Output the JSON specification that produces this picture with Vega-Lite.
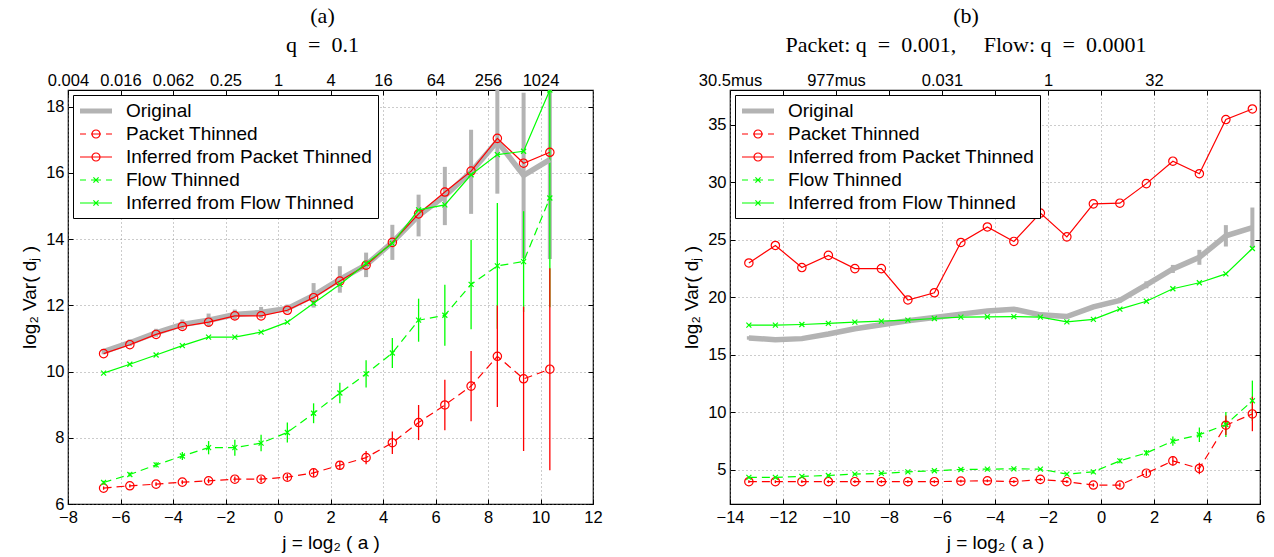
{
"$schema": "https://vega.github.io/schema/vega-lite/v6.json",
"background": "white",
"padding": {"left": 20, "top": 4, "right": 10, "bottom": 2},
"spacing": 79,
"resolve": {"scale": {"x": "independent", "y": "independent", "color": "independent", "shape": "independent"}, "legend": {"color": "independent", "shape": "independent"}},
"config": {
  "view": {"stroke": "black", "strokeWidth": 1.2},
  "axis": {"labelFont": "Liberation Sans", "labelFontSize": 16.5, "labelColor": "black", "titleFont": "Liberation Sans", "titleFontSize": 19, "titleFontWeight": "normal", "titleColor": "black", "tickColor": "black", "tickWidth": 1, "gridColor": "#7f7f7f", "gridDash": [1, 3], "gridWidth": 0.8, "gridOpacity": 1, "labelPadding": 4, "labelFlush": false, "labelOverlap": false},
  "title": {"font": "Liberation Serif", "fontSize": 22, "fontWeight": "normal", "color": "black", "subtitleFont": "Liberation Serif", "subtitleFontSize": 22, "subtitleColor": "black", "subtitlePadding": 7, "offset": 15, "anchor": "middle"},
  "legend": {"title": null, "orient": "top-left", "offset": 5, "padding": 5, "strokeColor": "black", "fillColor": "white", "symbolSize": 400, "symbolStrokeWidth": 1.2, "labelFont": "Liberation Sans", "labelFontSize": 19, "labelColor": "black", "labelOffset": 19, "rowPadding": 2, "symbolOffset": 7, "labelLimit": 0}
},
"datasets": {
"a": [
{"j":-6.644,"orig":10.6,"olo":10.52,"ohi":10.68,"pt":6.48,"ptlo":6.43,"pthi":6.53,"ipt":10.54,"ft":6.65,"ftlo":6.6,"fthi":6.7,"ift":9.95},
{"j":-5.644,"orig":10.87,"olo":10.77,"ohi":10.97,"pt":6.55,"ptlo":6.5,"pthi":6.6,"ipt":10.81,"ft":6.89,"ftlo":6.83,"fthi":6.95,"ift":10.22},
{"j":-4.644,"orig":11.17,"olo":11.05,"ohi":11.29,"pt":6.6,"ptlo":6.54,"pthi":6.66,"ipt":11.12,"ft":7.18,"ftlo":7.1,"fthi":7.26,"ift":10.5},
{"j":-3.644,"orig":11.42,"olo":11.27,"ohi":11.57,"pt":6.66,"ptlo":6.6,"pthi":6.72,"ipt":11.36,"ft":7.45,"ftlo":7.33,"fthi":7.57,"ift":10.78},
{"j":-2.644,"orig":11.55,"olo":11.35,"ohi":11.75,"pt":6.7,"ptlo":6.63,"pthi":6.77,"ipt":11.49,"ft":7.7,"ftlo":7.5,"fthi":7.9,"ift":11.04},
{"j":-1.644,"orig":11.72,"olo":11.57,"ohi":11.87,"pt":6.75,"ptlo":6.67,"pthi":6.83,"ipt":11.68,"ft":7.7,"ftlo":7.46,"fthi":7.94,"ift":11.04},
{"j":-0.644,"orig":11.78,"olo":11.61,"ohi":11.95,"pt":6.75,"ptlo":6.66,"pthi":6.84,"ipt":11.68,"ft":7.84,"ftlo":7.59,"fthi":8.09,"ift":11.19},
{"j":0.356,"orig":11.9,"olo":11.78,"ohi":12.02,"pt":6.81,"ptlo":6.71,"pthi":6.91,"ipt":11.85,"ft":8.16,"ftlo":7.86,"fthi":8.46,"ift":11.49},
{"j":1.356,"orig":12.3,"olo":11.93,"ohi":12.67,"pt":6.94,"ptlo":6.82,"pthi":7.06,"ipt":12.23,"ft":8.74,"ftlo":8.44,"fthi":9.04,"ift":12.06},
{"j":2.356,"orig":12.78,"olo":12.38,"ohi":13.18,"pt":7.17,"ptlo":7.04,"pthi":7.3,"ipt":12.73,"ft":9.35,"ftlo":9.04,"fthi":9.66,"ift":12.63},
{"j":3.356,"orig":13.22,"olo":12.85,"ohi":13.59,"pt":7.4,"ptlo":7.2,"pthi":7.6,"ipt":13.21,"ft":9.93,"ftlo":9.52,"fthi":10.34,"ift":13.26},
{"j":4.356,"orig":13.9,"olo":13.37,"ohi":14.43,"pt":7.85,"ptlo":7.51,"pthi":8.19,"ipt":13.9,"ft":10.56,"ftlo":10.11,"fthi":11.01,"ift":13.87},
{"j":5.356,"orig":14.71,"olo":14.08,"ohi":15.34,"pt":8.46,"ptlo":7.93,"pthi":8.99,"ipt":14.76,"ft":11.55,"ftlo":10.9,"fthi":12.2,"ift":14.88},
{"j":6.356,"orig":15.3,"olo":14.42,"ohi":16.18,"pt":8.99,"ptlo":8.23,"pthi":9.75,"ipt":15.42,"ft":11.7,"ftlo":10.78,"fthi":12.62,"ift":15.03},
{"j":7.356,"orig":16.03,"olo":14.76,"ohi":17.3,"pt":9.56,"ptlo":8.5,"pthi":10.62,"ipt":16.05,"ft":12.63,"ftlo":11.28,"fthi":13.98,"ift":15.94},
{"j":8.356,"orig":16.95,"olo":15.37,"ohi":18.53,"pt":10.46,"ptlo":8.93,"pthi":11.99,"ipt":17.04,"ft":13.19,"ftlo":11.29,"fthi":15.09,"ift":16.55},
{"j":9.356,"orig":15.92,"olo":13.42,"ohi":18.42,"pt":9.78,"ptlo":7.6,"pthi":11.96,"ipt":16.29,"ft":13.32,"ftlo":11.8,"fthi":14.84,"ift":16.65},
{"j":10.356,"orig":16.4,"olo":13.4,"ohi":19.4,"pt":10.07,"ptlo":7.02,"pthi":13.12,"ipt":16.62,"ft":15.24,"ftlo":11.94,"fthi":18.54,"ift":18.5}
],
"b": [
{"j":-13.288,"orig":16.44,"olo":16.29,"ohi":16.59,"pt":3.94,"ptlo":3.82,"pthi":4.06,"ipt":22.96,"ft":4.31,"ftlo":4.21,"fthi":4.41,"ift":17.56},
{"j":-12.288,"orig":16.29,"olo":16.14,"ohi":16.44,"pt":3.94,"ptlo":3.82,"pthi":4.06,"ipt":24.48,"ft":4.31,"ftlo":4.21,"fthi":4.41,"ift":17.56},
{"j":-11.288,"orig":16.38,"olo":16.23,"ohi":16.53,"pt":3.94,"ptlo":3.82,"pthi":4.06,"ipt":22.56,"ft":4.4,"ftlo":4.3,"fthi":4.5,"ift":17.61},
{"j":-10.288,"orig":16.78,"olo":16.63,"ohi":16.93,"pt":3.94,"ptlo":3.82,"pthi":4.06,"ipt":23.62,"ft":4.48,"ftlo":4.38,"fthi":4.58,"ift":17.7},
{"j":-9.288,"orig":17.24,"olo":17.09,"ohi":17.39,"pt":3.94,"ptlo":3.82,"pthi":4.06,"ipt":22.47,"ft":4.6,"ftlo":4.5,"fthi":4.7,"ift":17.82},
{"j":-8.288,"orig":17.59,"olo":17.44,"ohi":17.74,"pt":3.94,"ptlo":3.82,"pthi":4.06,"ipt":22.47,"ft":4.66,"ftlo":4.56,"fthi":4.76,"ift":17.9},
{"j":-7.288,"orig":17.93,"olo":17.78,"ohi":18.08,"pt":3.94,"ptlo":3.82,"pthi":4.06,"ipt":19.74,"ft":4.8,"ftlo":4.7,"fthi":4.9,"ift":17.99},
{"j":-6.288,"orig":18.22,"olo":18.07,"ohi":18.37,"pt":3.94,"ptlo":3.82,"pthi":4.06,"ipt":20.37,"ft":4.89,"ftlo":4.79,"fthi":4.99,"ift":18.13},
{"j":-5.288,"orig":18.51,"olo":18.36,"ohi":18.66,"pt":3.99,"ptlo":3.87,"pthi":4.11,"ipt":24.74,"ft":5.0,"ftlo":4.9,"fthi":5.1,"ift":18.25},
{"j":-4.288,"orig":18.79,"olo":18.64,"ohi":18.94,"pt":4.02,"ptlo":3.9,"pthi":4.14,"ipt":26.09,"ft":5.03,"ftlo":4.93,"fthi":5.13,"ift":18.28},
{"j":-3.288,"orig":18.94,"olo":18.79,"ohi":19.09,"pt":3.94,"ptlo":3.82,"pthi":4.06,"ipt":24.83,"ft":5.06,"ftlo":4.96,"fthi":5.16,"ift":18.3},
{"j":-2.288,"orig":18.45,"olo":18.3,"ohi":18.6,"pt":4.14,"ptlo":4.02,"pthi":4.26,"ipt":27.3,"ft":5.03,"ftlo":4.93,"fthi":5.13,"ift":18.25},
{"j":-1.288,"orig":18.3,"olo":18.15,"ohi":18.45,"pt":3.94,"ptlo":3.82,"pthi":4.06,"ipt":25.23,"ft":4.6,"ftlo":4.48,"fthi":4.72,"ift":17.84},
{"j":-0.288,"orig":19.14,"olo":18.99,"ohi":19.29,"pt":3.65,"ptlo":3.5,"pthi":3.8,"ipt":28.1,"ft":4.8,"ftlo":4.65,"fthi":4.95,"ift":18.05},
{"j":0.712,"orig":19.71,"olo":19.51,"ohi":19.91,"pt":3.65,"ptlo":3.45,"pthi":3.85,"ipt":28.16,"ft":5.75,"ftlo":5.55,"fthi":5.95,"ift":18.94},
{"j":1.712,"orig":21.06,"olo":20.76,"ohi":21.36,"pt":4.68,"ptlo":4.43,"pthi":4.93,"ipt":29.86,"ft":6.44,"ftlo":6.19,"fthi":6.69,"ift":19.63},
{"j":2.712,"orig":22.44,"olo":22.09,"ohi":22.79,"pt":5.75,"ptlo":5.35,"pthi":6.15,"ipt":31.81,"ft":7.47,"ftlo":7.07,"fthi":7.87,"ift":20.72},
{"j":3.712,"orig":23.45,"olo":22.8,"ohi":24.1,"pt":5.09,"ptlo":4.59,"pthi":5.59,"ipt":30.72,"ft":8.02,"ftlo":7.39,"fthi":8.65,"ift":21.24},
{"j":4.712,"orig":25.32,"olo":24.39,"ohi":26.25,"pt":8.85,"ptlo":8.0,"pthi":9.7,"ipt":35.43,"ft":8.91,"ftlo":7.83,"fthi":9.99,"ift":22.01},
{"j":5.712,"orig":26.03,"olo":24.28,"ohi":27.78,"pt":9.83,"ptlo":8.33,"pthi":11.33,"ipt":36.35,"ft":10.98,"ftlo":9.23,"fthi":12.73,"ift":24.22}
]
},
"hconcat": [
{
 "width": 525, "height": 414,
 "title": {"text": "(a)", "subtitle": "q\u2002=\u20020.1", "dx": -8},
 "data": {"name": "a"},
 "resolve": {"axis": {"x": "independent", "y": "independent"}},
 "layer": [
  {"mark": {"type": "rule", "color": "#b3b3b3", "strokeWidth": 4, "clip": true},
   "encoding": {"x": {"field": "j", "type": "quantitative", "scale": {"domain": [-8, 12], "nice": false, "zero": false}, "axis": null},
    "y": {"field": "olo", "type": "quantitative", "scale": {"domain": [6, 18.5], "nice": false, "zero": false}, "axis": null}, "y2": {"field": "ohi"}}},
  {"mark": {"type": "rule", "color": "#00ff00", "strokeWidth": 1.3, "clip": true},
   "encoding": {"x": {"field": "j", "type": "quantitative", "axis": null},
    "y": {"field": "ftlo", "type": "quantitative", "axis": null}, "y2": {"field": "fthi"}}},
  {"mark": {"type": "rule", "color": "#ff0000", "strokeWidth": 1.3, "clip": true},
   "encoding": {"x": {"field": "j", "type": "quantitative", "axis": null},
    "y": {"field": "ptlo", "type": "quantitative", "axis": null}, "y2": {"field": "pthi"}}},
  {"mark": {"type": "line", "color": "#b3b3b3", "strokeWidth": 5.5, "clip": true},
   "encoding": {"x": {"field": "j", "type": "quantitative", "scale": {"domain": [-8, 12], "nice": false, "zero": false},
      "axis": {"orient": "bottom", "values": [-8, -6, -4, -2, 0, 2, 4, 6, 8, 10, 12], "offset": -5, "tickSize": 5, "domain": false, "grid": true, "labelPadding": 5, "title": "j = log\u2082 ( a )", "titlePadding": 8}},
    "y": {"field": "orig", "type": "quantitative", "scale": {"domain": [6, 18.5], "nice": false, "zero": false},
      "axis": {"orient": "left", "values": [6, 8, 10, 12, 14, 16, 18], "offset": -5, "tickSize": 5, "domain": false, "grid": true, "title": "log\u2082 Var( d\u2c7c )", "titlePadding": 6}}}},
  {"mark": {"type": "line", "color": "#ff0000", "strokeWidth": 1.2, "strokeDash": [8, 5], "clip": true},
   "encoding": {"x": {"field": "j", "type": "quantitative", "axis": null}, "y": {"field": "pt", "type": "quantitative", "axis": null}}},
  {"mark": {"type": "point", "shape": "circle", "filled": false, "color": "#ff0000", "size": 70, "strokeWidth": 1.2, "opacity": 1, "clip": true},
   "encoding": {"x": {"field": "j", "type": "quantitative", "axis": null}, "y": {"field": "pt", "type": "quantitative", "axis": null}}},
  {"mark": {"type": "line", "color": "#ff0000", "strokeWidth": 1.2, "clip": true},
   "encoding": {"x": {"field": "j", "type": "quantitative", "scale": {"domain": [-8, 12], "nice": false, "zero": false},
      "axis": {"orient": "top", "values": [-8, -6, -4, -2, 0, 2, 4, 6, 8, 10], "offset": -5, "tickSize": 5, "domain": false, "grid": false, "title": null, "labelPadding": 2,
        "labelExpr": "datum.value == -8 ? '0.004' : datum.value == -6 ? '0.016' : datum.value == -4 ? '0.062' : datum.value == -2 ? '0.25' : datum.value == 0 ? '1' : datum.value == 2 ? '4' : datum.value == 4 ? '16' : datum.value == 6 ? '64' : datum.value == 8 ? '256' : '1024'"}},
    "y": {"field": "ipt", "type": "quantitative", "scale": {"domain": [6, 18.5], "nice": false, "zero": false},
      "axis": {"orient": "right", "values": [6, 8, 10, 12, 14, 16, 18], "offset": -5, "tickSize": 5, "domain": false, "grid": false, "labels": false, "title": null}}}},
  {"mark": {"type": "point", "shape": "circle", "filled": false, "color": "#ff0000", "size": 70, "strokeWidth": 1.2, "opacity": 1, "clip": true},
   "encoding": {"x": {"field": "j", "type": "quantitative", "axis": null}, "y": {"field": "ipt", "type": "quantitative", "axis": null}}},
  {"mark": {"type": "line", "color": "#00ff00", "strokeWidth": 1.2, "strokeDash": [8, 5], "clip": true},
   "encoding": {"x": {"field": "j", "type": "quantitative", "axis": null}, "y": {"field": "ft", "type": "quantitative", "axis": null}}},
  {"mark": {"type": "point", "shape": "M-1,-1L1,1M-1,1L1,-1", "filled": false, "color": "#00ff00", "size": 25, "strokeWidth": 1.2, "opacity": 1, "clip": true},
   "encoding": {"x": {"field": "j", "type": "quantitative", "axis": null}, "y": {"field": "ft", "type": "quantitative", "axis": null}}},
  {"mark": {"type": "line", "color": "#00ff00", "strokeWidth": 1.2, "clip": true},
   "encoding": {"x": {"field": "j", "type": "quantitative", "axis": null}, "y": {"field": "ift", "type": "quantitative", "axis": null}}},
  {"mark": {"type": "point", "shape": "M-1,-1L1,1M-1,1L1,-1", "filled": false, "color": "#00ff00", "size": 25, "strokeWidth": 1.2, "opacity": 1, "clip": true},
   "encoding": {"x": {"field": "j", "type": "quantitative", "axis": null}, "y": {"field": "ift", "type": "quantitative", "axis": null}}},
  {"transform": [{"filter": "false"}],
   "mark": {"type": "point", "filled": false, "strokeWidth": 1.2, "opacity": 1},
   "encoding": {
    "color": {"field": "series", "type": "nominal",
      "scale": {"domain": ["Original", "Packet Thinned", "Inferred from Packet Thinned", "Flow Thinned", "Inferred from Flow Thinned"], "range": ["#b3b3b3", "#ff0000", "#ff0000", "#00ff00", "#00ff00"]},
      "legend": {"title": null}},
    "shape": {"field": "series", "type": "nominal",
      "scale": {"domain": ["Original", "Packet Thinned", "Inferred from Packet Thinned", "Flow Thinned", "Inferred from Flow Thinned"],
        "range": ["M-1.6,-0.2L1.6,-0.2M-1.6,-0.1L1.6,-0.1M-1.6,0L1.6,0M-1.6,0.1L1.6,0.1M-1.6,0.2L1.6,0.2",
                  "M-1.6,0L-1,0M-0.5,0L0.5,0M1,0L1.6,0M0.4,0A0.4,0.4,0,1,1,-0.4,0A0.4,0.4,0,1,1,0.4,0",
                  "M-1.6,0L1.6,0M0.4,0A0.4,0.4,0,1,1,-0.4,0A0.4,0.4,0,1,1,0.4,0",
                  "M-1.6,0L-1,0M-0.5,0L0.5,0M1,0L1.6,0M-0.26,-0.26L0.26,0.26M-0.26,0.26L0.26,-0.26",
                  "M-1.6,0L1.6,0M-0.26,-0.26L0.26,0.26M-0.26,0.26L0.26,-0.26"]},
      "legend": {"title": null}}
   }}
 ]
},
{
 "width": 530, "height": 414,
 "title": {"text": "(b)", "subtitle": "Packet:\u00a0q\u2002=\u20020.001,\u2003\u00a0Flow:\u00a0q\u2002=\u20020.0001", "dx": -29},
 "data": {"name": "b"},
 "resolve": {"axis": {"x": "independent", "y": "independent"}},
 "layer": [
  {"mark": {"type": "rule", "color": "#b3b3b3", "strokeWidth": 4, "clip": true},
   "encoding": {"x": {"field": "j", "type": "quantitative", "scale": {"domain": [-14, 6], "nice": false, "zero": false}, "axis": null},
    "y": {"field": "olo", "type": "quantitative", "scale": {"domain": [2, 38], "nice": false, "zero": false}, "axis": null}, "y2": {"field": "ohi"}}},
  {"mark": {"type": "rule", "color": "#00ff00", "strokeWidth": 1.3, "clip": true},
   "encoding": {"x": {"field": "j", "type": "quantitative", "axis": null},
    "y": {"field": "ftlo", "type": "quantitative", "axis": null}, "y2": {"field": "fthi"}}},
  {"mark": {"type": "rule", "color": "#ff0000", "strokeWidth": 1.3, "clip": true},
   "encoding": {"x": {"field": "j", "type": "quantitative", "axis": null},
    "y": {"field": "ptlo", "type": "quantitative", "axis": null}, "y2": {"field": "pthi"}}},
  {"mark": {"type": "line", "color": "#b3b3b3", "strokeWidth": 5.5, "clip": true},
   "encoding": {"x": {"field": "j", "type": "quantitative", "scale": {"domain": [-14, 6], "nice": false, "zero": false},
      "axis": {"orient": "bottom", "values": [-14, -12, -10, -8, -6, -4, -2, 0, 2, 4, 6], "offset": -5, "tickSize": 5, "domain": false, "grid": true, "labelPadding": 5, "title": "j = log\u2082 ( a )", "titlePadding": 8}},
    "y": {"field": "orig", "type": "quantitative", "scale": {"domain": [2, 38], "nice": false, "zero": false},
      "axis": {"orient": "left", "values": [5, 10, 15, 20, 25, 30, 35], "offset": -5, "tickSize": 5, "domain": false, "grid": true, "title": "log\u2082 Var( d\u2c7c )", "titlePadding": 6}}}},
  {"mark": {"type": "line", "color": "#ff0000", "strokeWidth": 1.2, "strokeDash": [8, 5], "clip": true},
   "encoding": {"x": {"field": "j", "type": "quantitative", "axis": null}, "y": {"field": "pt", "type": "quantitative", "axis": null}}},
  {"mark": {"type": "point", "shape": "circle", "filled": false, "color": "#ff0000", "size": 70, "strokeWidth": 1.2, "opacity": 1, "clip": true},
   "encoding": {"x": {"field": "j", "type": "quantitative", "axis": null}, "y": {"field": "pt", "type": "quantitative", "axis": null}}},
  {"mark": {"type": "line", "color": "#ff0000", "strokeWidth": 1.2, "clip": true},
   "encoding": {"x": {"field": "j", "type": "quantitative", "scale": {"domain": [-14, 6], "nice": false, "zero": false},
      "axis": {"orient": "top", "values": [-14, -12, -10, -8, -6, -4, -2, 0, 2, 4], "offset": -5, "tickSize": 5, "domain": false, "grid": false, "title": null, "labelPadding": 2,
        "labelExpr": "datum.value == -14 ? '30.5mus' : datum.value == -10 ? '977mus' : datum.value == -6 ? '0.031' : datum.value == -2 ? '1' : datum.value == 2 ? '32' : ''"}},
    "y": {"field": "ipt", "type": "quantitative", "scale": {"domain": [2, 38], "nice": false, "zero": false},
      "axis": {"orient": "right", "values": [5, 10, 15, 20, 25, 30, 35], "offset": -5, "tickSize": 5, "domain": false, "grid": false, "labels": false, "title": null}}}},
  {"mark": {"type": "point", "shape": "circle", "filled": false, "color": "#ff0000", "size": 70, "strokeWidth": 1.2, "opacity": 1, "clip": true},
   "encoding": {"x": {"field": "j", "type": "quantitative", "axis": null}, "y": {"field": "ipt", "type": "quantitative", "axis": null}}},
  {"mark": {"type": "line", "color": "#00ff00", "strokeWidth": 1.2, "strokeDash": [8, 5], "clip": true},
   "encoding": {"x": {"field": "j", "type": "quantitative", "axis": null}, "y": {"field": "ft", "type": "quantitative", "axis": null}}},
  {"mark": {"type": "point", "shape": "M-1,-1L1,1M-1,1L1,-1", "filled": false, "color": "#00ff00", "size": 25, "strokeWidth": 1.2, "opacity": 1, "clip": true},
   "encoding": {"x": {"field": "j", "type": "quantitative", "axis": null}, "y": {"field": "ft", "type": "quantitative", "axis": null}}},
  {"mark": {"type": "line", "color": "#00ff00", "strokeWidth": 1.2, "clip": true},
   "encoding": {"x": {"field": "j", "type": "quantitative", "axis": null}, "y": {"field": "ift", "type": "quantitative", "axis": null}}},
  {"mark": {"type": "point", "shape": "M-1,-1L1,1M-1,1L1,-1", "filled": false, "color": "#00ff00", "size": 25, "strokeWidth": 1.2, "opacity": 1, "clip": true},
   "encoding": {"x": {"field": "j", "type": "quantitative", "axis": null}, "y": {"field": "ift", "type": "quantitative", "axis": null}}},
  {"transform": [{"filter": "false"}],
   "mark": {"type": "point", "filled": false, "strokeWidth": 1.2, "opacity": 1},
   "encoding": {
    "color": {"field": "series", "type": "nominal",
      "scale": {"domain": ["Original", "Packet Thinned", "Inferred from Packet Thinned", "Flow Thinned", "Inferred from Flow Thinned"], "range": ["#b3b3b3", "#ff0000", "#ff0000", "#00ff00", "#00ff00"]},
      "legend": {"title": null}},
    "shape": {"field": "series", "type": "nominal",
      "scale": {"domain": ["Original", "Packet Thinned", "Inferred from Packet Thinned", "Flow Thinned", "Inferred from Flow Thinned"],
        "range": ["M-1.6,-0.2L1.6,-0.2M-1.6,-0.1L1.6,-0.1M-1.6,0L1.6,0M-1.6,0.1L1.6,0.1M-1.6,0.2L1.6,0.2",
                  "M-1.6,0L-1,0M-0.5,0L0.5,0M1,0L1.6,0M0.4,0A0.4,0.4,0,1,1,-0.4,0A0.4,0.4,0,1,1,0.4,0",
                  "M-1.6,0L1.6,0M0.4,0A0.4,0.4,0,1,1,-0.4,0A0.4,0.4,0,1,1,0.4,0",
                  "M-1.6,0L-1,0M-0.5,0L0.5,0M1,0L1.6,0M-0.26,-0.26L0.26,0.26M-0.26,0.26L0.26,-0.26",
                  "M-1.6,0L1.6,0M-0.26,-0.26L0.26,0.26M-0.26,0.26L0.26,-0.26"]},
      "legend": {"title": null}}
   }}
 ]
}
]
}
